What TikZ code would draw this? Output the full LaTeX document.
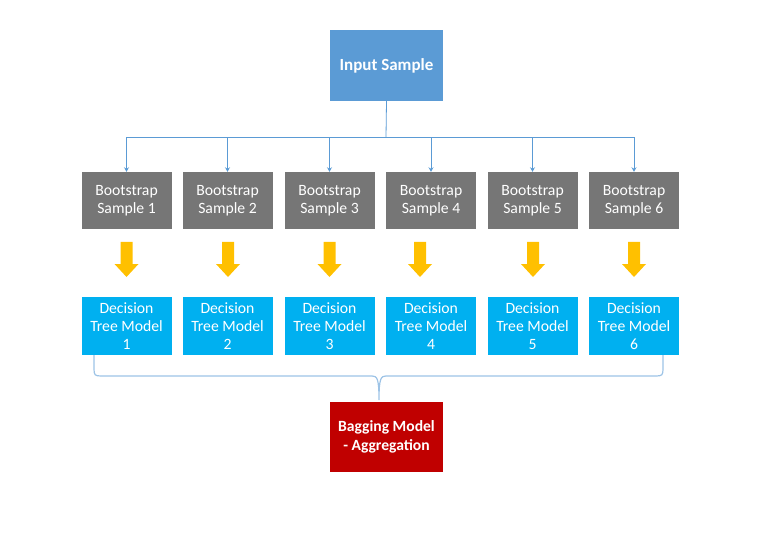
\documentclass[tikz,border=0pt]{standalone}
\usepackage{fontspec}
\setmainfont{Carlito}
\usetikzlibrary{arrows.meta,calc}
\definecolor{topblue}{HTML}{5B9BD5}
\definecolor{boxgray}{HTML}{767676}
\definecolor{treeblue}{HTML}{00B0F0}
\definecolor{aggred}{HTML}{C00000}
\definecolor{arrowyellow}{HTML}{FFC000}
\definecolor{bracecol}{HTML}{9DC3E6}
\tikzset{
  x=1pt,y=1pt,
  boxbase/.style={inner sep=0pt, text=white, align=center, font=\fontsize{15.7}{18}\selectfont},
  topbox/.style={boxbase, fill=topblue, minimum width=113pt, minimum height=71pt, font=\fontsize{17}{19}\selectfont\bfseries},
  samplebox/.style={boxbase, fill=boxgray, minimum width=90pt, minimum height=57pt},
  treebox/.style={boxbase, fill=treeblue, minimum width=90pt, minimum height=58pt},
  aggbox/.style={boxbase, fill=aggred, minimum width=113pt, minimum height=70pt, font=\fontsize{15.6}{19}\selectfont\bfseries},
  feed/.style={draw=topblue, line width=0.8pt, -{Stealth[length=4.5pt,width=5pt]}},
  yarrow/.style={fill=arrowyellow},
  brace/.style={draw=bracecol, line width=1.2pt},
}
\begin{document}
\begin{tikzpicture}
\useasboundingbox (0,0) rectangle (773,-553);
\node[topbox] (in) at (386.5,-65.5) {\raisebox{-2pt}{Input Sample}};
\coordinate (bus) at (386,-137);
\foreach \i/\cx/\ax in {1/126.5/126.5, 2/227.5/228, 3/329.5/329.5, 4/431/420, 5/532.5/533, 6/634/634}{
  \node[samplebox] (g\i) at (\cx,-200.5) {Bootstrap\\Sample \i};
  \node[treebox] (t\i) at (\cx,-326) {Decision\\Tree Model\\\i};
  \fill[yarrow] (\ax-6,-242) -- (\ax+6,-242) -- (\ax+6,-264) -- (\ax+12,-264) -- (\ax,-277) -- (\ax-12,-264) -- (\ax-6,-264) -- cycle;
}
\draw[draw=topblue, line width=0.8pt] (in.south) -- (bus);
\foreach \i in {1,...,6}{
  \draw[feed] (bus) -| (g\i.north);
}
\node[aggbox] (agg) at (386.5,-437) {Bagging Model\\- Aggregation};
\draw[brace] (94,-355) -- (94,-369) .. controls (94,-375) and (95,-376) .. (101,-376)
  -- (372,-376) .. controls (377,-376) and (379,-378) .. (379,-400)
  .. controls (379,-378) and (381,-376) .. (386,-376)
  -- (656,-376) .. controls (662,-376) and (663,-375) .. (663,-369) -- (663,-355);
\end{tikzpicture}
\end{document}
